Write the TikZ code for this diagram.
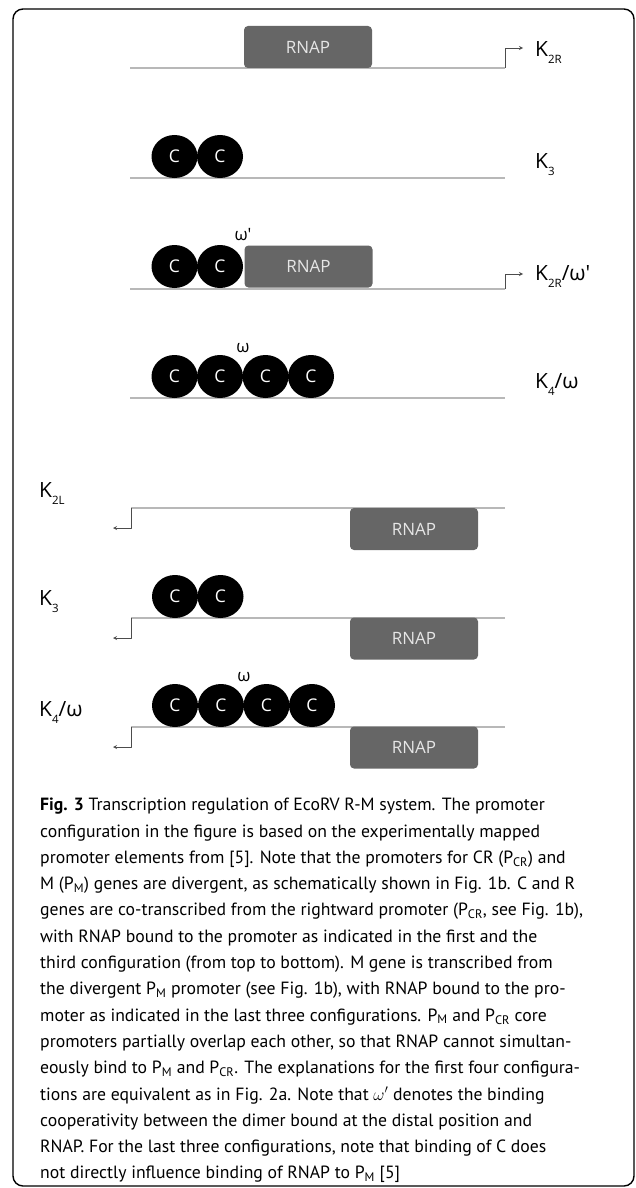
\documentclass[tikz,border=0pt]{standalone}
\usepackage{fontspec}
\setmainfont{Open Sans}
\newfontfamily\capfont{PT Sans}
\usetikzlibrary{shapes.geometric}
\definecolor{dnagray}{HTML}{B8B8B8}
\definecolor{rnapgray}{HTML}{666666}
\definecolor{rnaptext}{HTML}{E6E6E6}
\newcommand{\ksub}[1]{\raisebox{-7pt}{\fontsize{11.5}{11.5}\selectfont#1}}

\begin{document}
\begin{tikzpicture}[x=1pt, y=-1pt, line join=round, >=stealth,
	dna/.style={draw=dnagray, line width=2.8pt},
	prom/.style={draw=black!70, line width=0.8pt, ->},
	rnap/.style={fill=rnapgray, rounded corners=4pt, minimum width=128pt, minimum height=42pt, inner sep=0pt, text=rnaptext, font=\fontsize{17}{17}\selectfont},
	cdim/.style={ellipse, fill=black, minimum width=46pt, minimum height=43pt, inner sep=0pt, text=white, font=\fontsize{17.5}{17.5}\selectfont},
	klab/.style={anchor=base west, inner sep=0pt, font=\fontsize{21}{21}\selectfont},
	coop/.style={inner sep=0pt, font=\fontsize{17}{17}\selectfont}]
	\useasboundingbox (0,0) rectangle (636,1188);
	\draw[line width=1.4pt, rounded corners=10pt] (13,9) rectangle (634,1186);
	\def\xa{130} \def\xb{505}
	% rightward promoter P_CR
	\draw[dna] (\xa,68) -- (\xb,68) coordinate (p1);
	\draw[dna] (\xa,178) -- (\xb,178);
	\draw[dna] (\xa,289) -- (\xb,289) coordinate (p3);
	\draw[dna] (\xa,398) -- (\xb,398);
	\coordinate (t1) at (523,48);
	\coordinate (t3) at (523,274);
	\draw[prom] (p1) |- (t1);
	\draw[prom] (p3) |- (t3);
	\node[rnap] (rnapA) at (308,47) {RNAP};
	\node[cdim] (cB1) at (174.5,156.5) {C};
	\node[cdim] (cB2) at (220,156.5) {C};
	\node[cdim] (cC1) at (174.5,266.5) {C};
	\node[cdim] (cC2) at (220,266.5) {C};
	\node[rnap] (rnapC) at (308.5,266.5) {RNAP};
	\node[coop] (wC) at (243,235) {ω\textquotesingle};
	\foreach \i/\x in {1/174.5,2/220,3/265.5,4/311}
		\node[cdim] (cD\i) at (\x,376.5) {C};
	\node[coop] (wD) at (243,348) {ω};
	\node[klab] (kA) at (535,57) {K\ksub{2R}};
	\node[klab] (kB) at (535,168) {K\ksub{3}};
	\node[klab] (kC) at (535,280) {K\ksub{2R}/ω\textquotesingle};
	\node[klab] (kD) at (535,388) {K\ksub{4}/ω};
	% divergent promoter P_M
	\draw[dna] (131,508) coordinate (q5) -- (\xb,508);
	\draw[dna] (131,618) coordinate (q6) -- (\xb,618);
	\draw[dna] (131,727) coordinate (q7) -- (\xb,727);
	\coordinate (s5) at (113,528);
	\coordinate (s6) at (113,638);
	\coordinate (s7) at (113,747);
	\draw[prom] (q5) |- (s5);
	\draw[prom] (q6) |- (s6);
	\draw[prom] (q7) |- (s7);
	\node[rnap] (rnapE) at (414,529) {RNAP};
	\node[rnap] (rnapF) at (414,638.5) {RNAP};
	\node[rnap] (rnapG) at (414,747.5) {RNAP};
	\node[cdim] (cF1) at (175,596.5) {C};
	\node[cdim] (cF2) at (220.5,596.5) {C};
	\foreach \i/\x in {1/175,2/221,3/266.5,4/312}
		\node[cdim] (cG\i) at (\x,705.5) {C};
	\node[coop] (wG) at (244,677) {ω};
	\node[klab] (kE) at (39,497) {K\ksub{2L}};
	\node[klab] (kF) at (39,605) {K\ksub{3}};
	\node[klab] (kG) at (39,716) {K\ksub{4}/ω};
	% caption
	\node[anchor=north west, inner sep=0pt, align=left, font=\capfont\fontsize{17.7}{26.3}\selectfont] (cap) at (40,798) {%
		\textbf{Fig. 3} Transcription regulation of EcoRV R-M system. The promoter\\
		configuration in the figure is based on the experimentally mapped\\
		promoter elements from [5]. Note that the promoters for CR (P\textsubscript{CR}) and\\
		M (P\textsubscript{M}) genes are divergent, as schematically shown in Fig. 1b. C and R\\
		genes are co-transcribed from the rightward promoter (P\textsubscript{CR}, see Fig. 1b),\\
		with RNAP bound to the promoter as indicated in the first and the\\
		third configuration (from top to bottom). M gene is transcribed from\\
		the divergent P\textsubscript{M} promoter (see Fig. 1b), with RNAP bound to the pro-\\
		moter as indicated in the last three configurations. P\textsubscript{M} and P\textsubscript{CR} core\\
		promoters partially overlap each other, so that RNAP cannot simultan-\\
		eously bind to P\textsubscript{M} and P\textsubscript{CR}. The explanations for the first four configura-\\
		tions are equivalent as in Fig. 2a. Note that $\omega'$ denotes the binding\\
		cooperativity between the dimer bound at the distal position and\\
		RNAP. For the last three configurations, note that binding of C does\\
		not directly influence binding of RNAP to P\textsubscript{M} [5]};
\end{tikzpicture}
\end{document}
